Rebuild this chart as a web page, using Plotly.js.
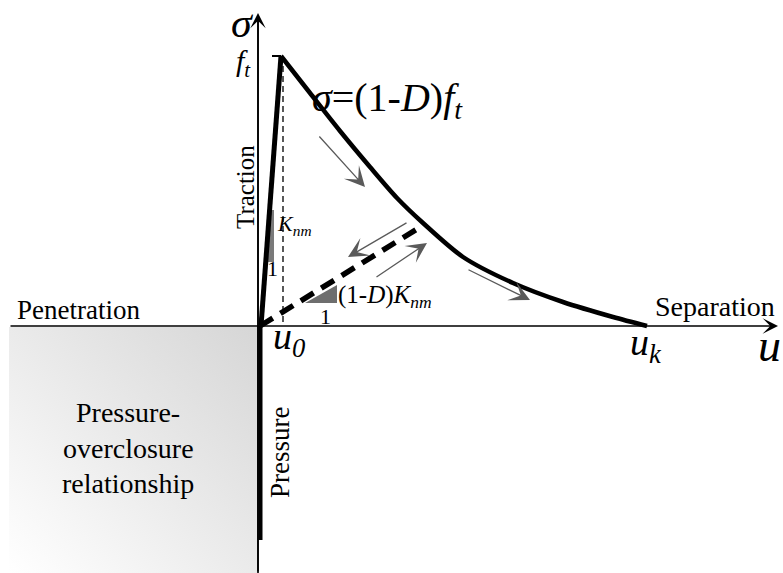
<!DOCTYPE html>
<html><head><meta charset="utf-8">
<script src="https://cdn.plot.ly/plotly-3.0.1.min.js"></script>
<style>html,body{margin:0;padding:0;background:#fff}#chart{width:783px;height:573px}</style>
</head><body><div id="chart"></div>
<script>
// Schematic values in arbitrary units (u: separation, s: traction)
const ft = 270;           // peak traction
const u0 = 24;            // separation at damage initiation
const uk = 388;           // separation at complete failure
const loadU = [2, 22];
const loadS = [0, 270];
const softU = [22, 51, 81, 111, 138, 164, 204, 254, 304, 354, 388];
const softS = [270, 233, 195, 159, 128, 103, 69, 43, 24, 9, 0];
const unloadU = [1, 163];
const unloadS = [0, 100];
const pressU = [1, 1];
const pressS = [0, -214];
// direction arrows: [tailU, tailS, headU, headS]
const arrows = [
  [59, 191, 106, 139],
  [149, 104, 89, 69],
  [116, 48, 168, 83],
  [208, 57, 271, 26]
];
const xAxisEnds = [-250, 519];
const yAxisEnds = [-247, 313];
const boxU = [-250, -1];
const boxS = [-247, -1];
const kTri = {u: [7, 15, 15, 10.4], s: [64, 64, 116, 116]};
const dTri = {u: [46, 78, 78], s: [23, 23, 41]};

const F = 'Liberation Serif';
const black = '#000';

const traces = [
  {x: dTri.u, y: dTri.s, fill: 'toself', fillcolor: '#6e6e6e', mode: 'lines', line: {width: 0}, hoverinfo: 'skip'},
  {x: kTri.u, y: kTri.s, fill: 'toself', fillcolor: '#7a7a7a', mode: 'lines', line: {width: 0}, hoverinfo: 'skip'},
  {x: [u0, u0], y: [ft, 0], mode: 'lines', line: {color: '#222', width: 1.5, dash: '6px,4px'}},
  {x: [13, 22], y: [ft, ft], mode: 'lines', line: {color: black, width: 2}},
  {x: unloadU, y: unloadS, mode: 'lines', line: {color: black, width: 5.5, dash: '15px,9px'}},
  {x: loadU, y: loadS, mode: 'lines', line: {color: black, width: 5}},
  {x: softU, y: softS, mode: 'lines', line: {color: black, width: 4.5, shape: 'spline', smoothing: 0.8}},
  {x: pressU, y: pressS, mode: 'lines', line: {color: black, width: 5}}
];

const ann = [];
function txt(x, y, text, size, opts) {
  ann.push(Object.assign({x: x, y: y, xref: 'x', yref: 'y', text: text, showarrow: false,
    font: {family: F, size: size, color: black}, xanchor: 'left', yanchor: 'middle'}, opts || {}));
}
// axis arrows
ann.push({x: xAxisEnds[1], y: 0, ax: xAxisEnds[0], ay: 0, axref: 'x', ayref: 'y', xref: 'x', yref: 'y',
  text: '', showarrow: true, arrowhead: 3, arrowsize: 1.6, arrowwidth: 1.6, arrowcolor: black});
ann.push({x: -1, y: yAxisEnds[1], ax: -1, ay: yAxisEnds[0], axref: 'x', ayref: 'y', xref: 'x', yref: 'y',
  text: '', showarrow: true, arrowhead: 3, arrowsize: 1.6, arrowwidth: 1.6, arrowcolor: black});
arrows.forEach(a => ann.push({x: a[2], y: a[3], ax: a[0], ay: a[1], axref: 'x', ayref: 'y', xref: 'x', yref: 'y',
  text: '', showarrow: true, arrowhead: 3, arrowsize: 2.6, arrowwidth: 1.3, arrowcolor: '#5a5a5a'}));

txt(-17, 303, '<i>σ</i>', 42, {xanchor: 'center'});
txt(-16, 263, '<i>f<sub>t</sub></i>', 30, {xanchor: 'center'});
txt(51, 226, '<i>σ</i>=(1-<i>D</i>)<i>f<sub>t</sub></i>', 40);
txt(-14, 139, 'Traction', 25, {xanchor: 'center', textangle: -90});
txt(16, 101, '<i>K<sub>nm</sub></i>', 22);
txt(13, 58, '1', 22, {xanchor: 'center'});
txt(77, 30, '(1-<i>D</i>)<i>K<sub>nm</sub></i>', 25);
txt(66, 10, '1', 22, {xanchor: 'center'});
txt(12, -13, '<i>u<sub>0</sub></i>', 38);
txt(369, -19, '<i>u<sub>k</sub></i>', 38);
txt(497, -19, '<i>u</i>', 46);
txt(-244, 16, 'Penetration', 27);
txt(394, 20, 'Separation', 28);
txt(-131, -86, 'Pressure-', 28, {xanchor: 'center'});
txt(-131, -122, 'overclosure', 28, {xanchor: 'center'});
txt(-131, -157, 'relationship', 28, {xanchor: 'center'});
txt(21, -127, 'Pressure', 27, {xanchor: 'center', textangle: -90});

const svg = '<svg xmlns="http://www.w3.org/2000/svg" width="100" height="100" preserveAspectRatio="none">' +
  '<defs><linearGradient id="g" x1="0" y1="1" x2="1" y2="0"><stop offset="0" stop-color="#ffffff"/>' +
  '<stop offset="1" stop-color="#d6d6d6"/></linearGradient></defs><rect width="100" height="100" fill="url(#g)"/></svg>';

const layout = {
  width: 783, height: 573, margin: {l: 0, r: 0, t: 0, b: 0},
  font: {family: F, color: black},
  paper_bgcolor: '#fff', plot_bgcolor: '#fff', showlegend: false,
  xaxis: {range: [-259, 524], visible: false, fixedrange: true},
  yaxis: {range: [-247, 326], visible: false, fixedrange: true},
  images: [{source: 'data:image/svg+xml;charset=utf-8,' + encodeURIComponent(svg), xref: 'x', yref: 'y',
    x: boxU[0], y: boxS[1], sizex: boxU[1] - boxU[0], sizey: boxS[1] - boxS[0],
    xanchor: 'left', yanchor: 'top', sizing: 'stretch', layer: 'below'}],
  shapes: [
    {type: 'line', xref: 'x', yref: 'y', x0: boxU[1], x1: boxU[1], y0: boxS[0], y1: boxS[1], line: {color: '#b8b8b8', width: 1}},
    {type: 'line', xref: 'x', yref: 'y', x0: -1, x1: -1, y0: yAxisEnds[0], y1: yAxisEnds[1] - 5, line: {color: black, width: 1.6}}
  ],
  annotations: ann
};
Plotly.newPlot('chart', traces, layout, {staticPlot: true, displayModeBar: false});
</script></body></html>
